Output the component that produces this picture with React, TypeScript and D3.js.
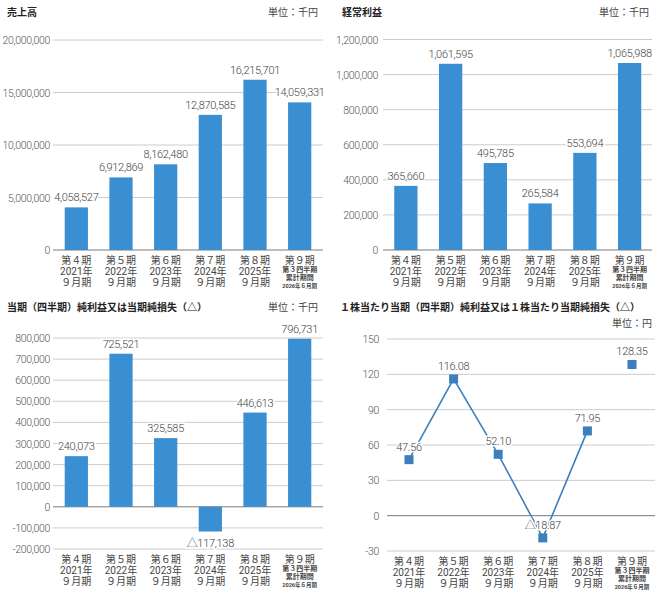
import { useEffect } from "react";
import * as d3 from "d3";

// period labels (x axis), one array of lines per period
const periods: string[][] = [
  ["第４期", "2021年", "９月期"],
  ["第５期", "2022年", "９月期"],
  ["第６期", "2023年", "９月期"],
  ["第７期", "2024年", "９月期"],
  ["第８期", "2025年", "９月期"],
  ["第９期", "第３四半期", "累計期間", "2026年６月期"],
];

const salesValues = [4058527, 6912869, 8162480, 12870585, 16215701, 14059331];
const ordinaryValues = [365660, 1061595, 495785, 265584, 553694, 1065988];
const netValues = [240073, 725521, 325585, -117138, 446613, 796731];
const epsValues = [47.56, 116.08, 52.1, -18.87, 71.95, 128.35];

const salesTicks = [0, 5000000, 10000000, 15000000, 20000000];
const ordinaryTicks = [0, 200000, 400000, 600000, 800000, 1000000, 1200000];
const netTicks = [-200000, -100000, 0, 100000, 200000, 300000, 400000, 500000, 600000, 700000, 800000];
const epsTicks = [-30, 0, 30, 60, 90, 120, 150];

const BAR = "#3a8fd2";
const LINE = "#3b7fbd";
const GRID = "#cccccc";
const ZERO = "#7a7a7a";
const TXT = "#555555";
const NUM_FONT = "Roboto, 'Noto Sans CJK JP', sans-serif";
const JP_FONT = "'Noto Sans CJK JP', sans-serif";

const fmtInt = d3.format(",");
const fmtDec = d3.format(",.2f");

interface PanelProps {
  title: string;
  unit: string;
  titleX: number;
  titleY: number;
  unitX: number;
  unitY: number;
  ticks: number[];
  x0: number;
  x1: number;
  yTop: number;
  yBottom: number;
  gridX0: number;
  gridX1: number;
  tickX: number;
  decimals?: boolean;
}

function tickText(v: number) {
  return v < 0 ? "-" + fmtInt(-v) : fmtInt(v);
}

function valueText(v: number, decimals?: boolean) {
  const f = decimals ? fmtDec : fmtInt;
  return v < 0 ? "△" + f(-v) : f(v);
}

function Frame(props: PanelProps & { y: d3.ScaleLinear<number, number>; x: d3.ScaleBand<string> }) {
  const { y, x } = props;
  return (
    <g>
      <text x={props.titleX} y={props.titleY} fontFamily={JP_FONT} fontSize={10} fontWeight={700} fill="#222">
        {props.title}
      </text>
      <text x={props.unitX} y={props.unitY} fontFamily={JP_FONT} fontSize={10} fill="#444" textAnchor="end">
        {props.unit}
      </text>
      {props.ticks.map((t) => (
        <g key={t}>
          <line
            x1={props.gridX0}
            x2={props.gridX1}
            y1={y(t)}
            y2={y(t)}
            stroke={t === 0 ? ZERO : GRID}
            strokeWidth={1}
          />
          <text
            x={props.tickX}
            y={y(t) + 4}
            textAnchor="end"
            fontFamily={NUM_FONT}
            fontSize={10.5}
            fontWeight={300}
            letterSpacing={-0.3}
            fill={TXT}
          >
            {tickText(t)}
          </text>
        </g>
      ))}
      {periods.map((lines, i) => {
        const cx = (x(String(i)) ?? 0) + x.bandwidth() / 2;
        const small = lines.length > 3;
        return (
          <g key={i} fontFamily={NUM_FONT} fill="#444" textAnchor="middle">
            {lines.map((s, j) => {
              const dy = small ? [13.5, 21.5, 29.5, 38][j] : [13.5, 24.5, 35.5][j];
              const fs = !small || j === 0 ? 10 : j === 3 ? 5.5 : 7;
              return (
                <text key={j} x={cx} y={props.yBottom + dy} fontSize={fs} fontWeight={small && j > 0 ? 700 : 400}>
                  {s}
                </text>
              );
            })}
          </g>
        );
      })}
    </g>
  );
}

function BarPanel(props: PanelProps & { values: number[] }) {
  const x = d3
    .scaleBand<string>()
    .domain(periods.map((_, i) => String(i)))
    .range([props.x0, props.x1])
    .paddingInner(0.48)
    .paddingOuter(0.24);
  const y = d3
    .scaleLinear()
    .domain([props.ticks[0], props.ticks[props.ticks.length - 1]])
    .range([props.yBottom, props.yTop]);
  return (
    <g>
      <Frame {...props} x={x} y={y} />
      {props.values.map((v, i) => {
        const top = Math.min(y(v), y(0));
        const h = Math.abs(y(v) - y(0));
        const cx = (x(String(i)) ?? 0) + x.bandwidth() / 2;
        return (
          <g key={i}>
            <rect x={x(String(i))} y={top} width={x.bandwidth()} height={h} fill={BAR} />
            <text
              x={cx}
              y={v >= 0 ? y(v) - 6 : y(v) + 15}
              textAnchor="middle"
              fontFamily={NUM_FONT}
              fontSize={11}
              fontWeight={300}
              letterSpacing={-0.3}
              fill="#444"
              stroke="#fff"
              strokeWidth={3}
              paintOrder="stroke"
            >
              {valueText(v)}
            </text>
          </g>
        );
      })}
    </g>
  );
}

function LinePanel(props: PanelProps & { values: number[] }) {
  const x = d3
    .scaleBand<string>()
    .domain(periods.map((_, i) => String(i)))
    .range([props.x0, props.x1])
    .paddingInner(0.48)
    .paddingOuter(0.24);
  const y = d3
    .scaleLinear()
    .domain([props.ticks[0], props.ticks[props.ticks.length - 1]])
    .range([props.yBottom, props.yTop]);
  const cx = (i: number) => (x(String(i)) ?? 0) + x.bandwidth() / 2;
  // line joins the full-year periods only; the quarter-to-date point stands alone
  const line = d3
    .line<number>()
    .x((_, i) => cx(i))
    .y((d) => y(d));
  const path = line(props.values.slice(0, 5)) ?? "";
  return (
    <g>
      <Frame {...props} x={x} y={y} />
      <path d={path} fill="none" stroke={LINE} strokeWidth={1.6} />
      {props.values.map((v, i) => (
        <rect key={"m" + i} x={cx(i) - 4.5} y={y(v) - 4.5} width={9} height={9} fill={LINE} />
      ))}
      {props.values.map((v, i) => (
        <text
          key={"t" + i}
          x={cx(i)}
          y={y(v) - 9}
          textAnchor="middle"
          fontFamily={NUM_FONT}
          fontSize={11}
          fontWeight={300}
          letterSpacing={-0.3}
          fill="#444"
          stroke="#fff"
          strokeWidth={3}
          paintOrder="stroke"
        >
          {valueText(v, true)}
        </text>
      ))}
    </g>
  );
}

const App = () => {
  useEffect(() => {
    document.body.style.margin = "0";
  }, []);

  return (
    <svg width={667} height={595} style={{ display: "block", background: "#fff" }}>
      <BarPanel
        title="売上高"
        unit="単位：千円"
        titleX={7}
        titleY={16}
        unitX={318}
        unitY={16}
        ticks={salesTicks}
        values={salesValues}
        x0={54}
        x1={322}
        yTop={40}
        yBottom={250}
        gridX0={53}
        gridX1={323}
        tickX={50}
      />
      <BarPanel
        title="経常利益"
        unit="単位：千円"
        titleX={342}
        titleY={16}
        unitX={649}
        unitY={16}
        ticks={ordinaryTicks}
        values={ordinaryValues}
        x0={383.5}
        x1={652}
        yTop={39.5}
        yBottom={250}
        gridX0={383}
        gridX1={652}
        tickX={378}
      />
      <BarPanel
        title="当期（四半期）純利益又は当期純損失（△）"
        unit="単位：千円"
        titleX={7}
        titleY={311}
        unitX={318}
        unitY={311}
        ticks={netTicks}
        values={netValues}
        x0={54}
        x1={322}
        yTop={338}
        yBottom={549}
        gridX0={53}
        gridX1={323}
        tickX={50}
      />
      <LinePanel
        title="１株当たり当期（四半期）純利益又は１株当たり当期純損失（△）"
        unit="単位：円"
        titleX={340}
        titleY={311}
        unitX={652}
        unitY={327}
        ticks={epsTicks}
        values={epsValues}
        x0={386.7}
        x1={654.3}
        yTop={339}
        yBottom={551}
        gridX0={387}
        gridX1={655}
        tickX={379}
        decimals
      />
    </svg>
  );
};

export default App;
